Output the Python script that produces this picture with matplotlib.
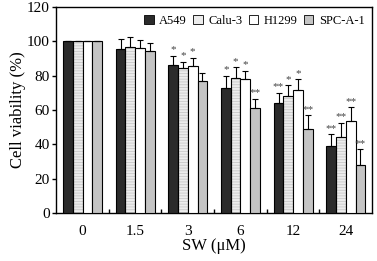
import numpy as np
import matplotlib
matplotlib.use('Agg')
import matplotlib.pyplot as plt
from matplotlib.patches import Patch

plt.rcParams['font.family'] = 'Liberation Serif'
plt.rcParams['hatch.linewidth'] = 0.6

doses = ['0', '1.5', '3', '6', '12', '24']
lines = ['A549', 'Calu-3', 'H1299', 'SPC-A-1']
a549 = [100, 95.5, 86, 73, 64, 39]
calu3 = [100, 97, 84.5, 78.5, 68, 44.5]
h1299 = [100, 96, 85.5, 78, 71.5, 53.5]
spca1 = [100, 94.5, 77, 61, 49, 28]
a549_err = [0, 6, 5.5, 7, 6, 7]
calu3_err = [0, 5.5, 3.5, 6.5, 6.5, 8]
h1299_err = [0, 5, 5, 5, 6.5, 8]
spca1_err = [0, 4.5, 4.5, 5.5, 8, 9]
a549_sig = ['', '', '*', '*', '**', '**']
calu3_sig = ['', '', '*', '*', '*', '**']
h1299_sig = ['', '', '*', '*', '*', '**']
spca1_sig = ['', '', '', '**', '**', '**']

vals = [a549, calu3, h1299, spca1]
errs = [a549_err, calu3_err, h1299_err, spca1_err]
sigs = [a549_sig, calu3_sig, h1299_sig, spca1_sig]
faces = ['#2b2b2b', '#ececec', 'white', '#c4c4c4']
hatches = [None, '------', None, None]

fig = plt.figure(figsize=(3.77, 2.61), dpi=100)
ax = fig.add_axes([0.149, 0.184, 0.838, 0.789])

x = np.arange(len(doses))
w = 0.185
for i in range(4):
    pos = x + (i - 1.5) * w
    if hatches[i]:
        ax.bar(pos, vals[i], w, color=faces[i], edgecolor='#c8c8c8',
               hatch=hatches[i], linewidth=0, zorder=2)
        ax.bar(pos, vals[i], w, fill=False, edgecolor='black', linewidth=0.8, zorder=3)
    else:
        ax.bar(pos, vals[i], w, color=faces[i], edgecolor='black', linewidth=0.8, zorder=3)
    e = np.array(errs[i])
    ax.errorbar(pos, vals[i], yerr=[np.zeros_like(e), e], fmt='none',
                ecolor='black', elinewidth=0.8, capsize=2.5, capthick=0.8, zorder=4)
    for p, v, er, s in zip(pos, vals[i], errs[i], sigs[i]):
        if s:
            ax.text(p, v + er + 0.8, s, ha='center', va='bottom', fontsize=8,
                    color='#444444', zorder=5)

ax.set_xlim(-0.5, 5.5)
ax.set_ylim(0, 120)
ax.set_yticks(range(0, 121, 20))
ax.set_xticks(x)
ax.set_xticklabels(doses, fontsize=11)
ax.set_xticks(x[:-1] + 0.5, minor=True)
ax.tick_params(axis='x', which='major', length=0, pad=9)
ax.tick_params(axis='x', which='minor', direction='in', length=3, width=1)
ax.tick_params(axis='y', labelsize=11, direction='out', length=3, width=1, pad=1.5)
for sp in ax.spines.values():
    sp.set_linewidth(1.0)

ax.set_ylabel('Cell viability (%)', fontsize=12, labelpad=1)
ax.set_xlabel('SW (\u03bcM)', fontsize=12, labelpad=0)

handles = [Patch(facecolor=faces[i], edgecolor='black', linewidth=0.6) for i in range(4)]
ax.legend(handles, lines, loc='upper right', ncol=4, frameon=False, fontsize=9,
          handlelength=0.75, handleheight=0.75, handletextpad=0.45, columnspacing=0.5,
          bbox_to_anchor=(1.0, 1.0), borderaxespad=0.2)

fig.savefig('out.png', dpi=100)
